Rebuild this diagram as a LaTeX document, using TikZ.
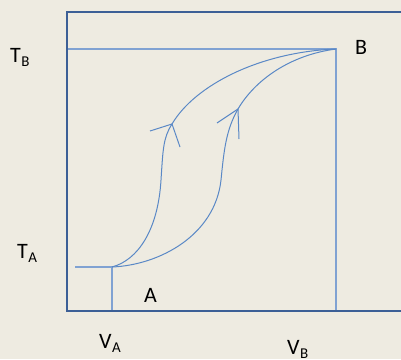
\documentclass[tikz,border=0pt]{standalone}
\usepackage{fontspec}
\setmainfont{Carlito}
\usetikzlibrary{positioning}
\definecolor{bgcol}{HTML}{EEEBE1}
\definecolor{framecol}{HTML}{3C5F96}
\definecolor{guidecol}{HTML}{80A2D2}
\definecolor{curvecol}{HTML}{5A88C6}
\newcommand{\lbsub}[2]{#1\hspace{0.5pt}\raisebox{-4.5pt}{\fontsize{15}{15}\selectfont #2}}

\begin{document}
\begin{tikzpicture}[x=1pt, y=-1pt,
  frame/.style={draw=framecol, line width=2.6pt, line join=miter},
  guide/.style={draw=guidecol, line width=1.2pt},
  curve/.style={draw=curvecol, line width=1pt},
  lbl/.style={anchor=base west, inner sep=0pt, font=\fontsize{22}{22}\selectfont}
]
  \fill[bgcol] (0,0) rectangle (401,359);
  \useasboundingbox (0,0) rectangle (401,359);

  % - Rahmen -
  \draw[frame] (403,12) -- (67,12) -- (67,311) -- (403,311);

  % - Punkte -
  \coordinate (ptA)  at (112,267);
  \coordinate (ptB)  at (336,49);
  \coordinate (tbax) at (68,49);
  \coordinate (taax) at (75,267);
  \coordinate (vaax) at (112,310);
  \coordinate (vbax) at (336,310);
  \coordinate (tipL) at (172,124);
  \coordinate (tipR) at (238,109);

  % - Hilfslinien -
  \draw[guide] (tbax) -- (ptB) -- (vbax);
  \draw[guide] (taax) -- (ptA) -- (vaax);

  % - Kurven A -> B -
  \draw[curve] (ptA) .. controls (138,260) and (158,230) .. (161,180)
    .. controls (163,150) and (163,138) .. (tipL)
    .. controls (195,85) and (260,52) .. (ptB);
  \draw[curve] (ptA) .. controls (160,265) and (215,235) .. (221,180)
    .. controls (224,150) and (226,130) .. (tipR)
    .. controls (255,80) and (290,55) .. (ptB);

  % - Pfeilspitzen -
  \coordinate (armL1) at (150,131);
  \coordinate (armL2) at (180,147);
  \coordinate (armR1) at (217,123);
  \coordinate (armR2) at (239,139);
  \draw[curve] (armL1) -- (tipL) -- (armL2);
  \draw[curve] (armR1) -- (tipR) -- (armR2);

  % - Beschriftung -
  \node[lbl] (tb) at (10,62)   {\lbsub{T}{B}};
  \node[lbl] (ta) at (17,258)  {\lbsub{T}{A}};
  \node[lbl] (lb) at (355,54)  {B};
  \node[lbl] (la) at (144,302) {A};
  \node[lbl] (va) at (99,348)  {\lbsub{V}{A}};
  \node[lbl] (vb) at (287,354) {\lbsub{V}{B}};
\end{tikzpicture}
\end{document}
